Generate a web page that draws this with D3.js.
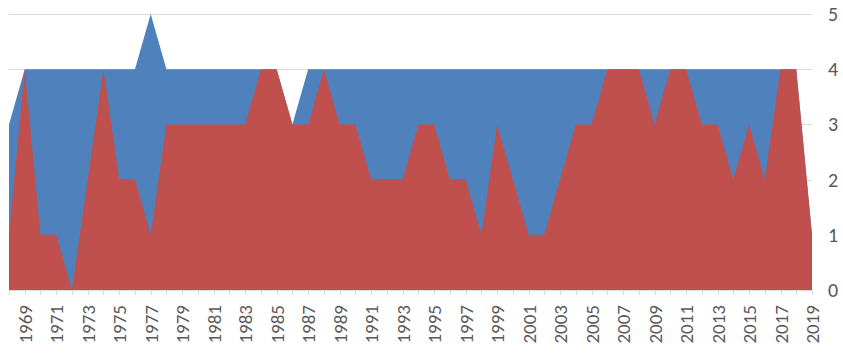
<!DOCTYPE html>
<html lang="en">
<head>
  <meta charset="UTF-8">
  <title>Area Chart 1968-2019</title>
  <script src="https://d3js.org/d3.v7.min.js"></script>
  <style>
    body {
      margin: 0;
      background-color: #fff;
      font-family: Calibri, Carlito, "Liberation Sans", Arial, sans-serif;
    }
    .grid line {
      stroke: #d9d9d9;
      stroke-width: 1px;
      shape-rendering: crispEdges;
    }
    .tick-label {
      fill: #595959;
      font-size: 20px;
    }
    .x-label {
      font-size: 19px;
    }
  </style>
</head>
<body>
  <svg width="843" height="353"></svg>

  <script>
    const years = [1968, 1969, 1970, 1971, 1972, 1973, 1974, 1975, 1976, 1977,
                   1978, 1979, 1980, 1981, 1982, 1983, 1984, 1985, 1986, 1987,
                   1988, 1989, 1990, 1991, 1992, 1993, 1994, 1995, 1996, 1997,
                   1998, 1999, 2000, 2001, 2002, 2003, 2004, 2005, 2006, 2007,
                   2008, 2009, 2010, 2011, 2012, 2013, 2014, 2015, 2016, 2017,
                   2018, 2019];

    // back series (blue)
    const blueValues = [3, 4, 4, 4, 4, 4, 4, 4, 4, 5,
                        4, 4, 4, 4, 4, 4, 4, 4, 3, 4,
                        4, 4, 4, 4, 4, 4, 4, 4, 4, 4,
                        4, 4, 4, 4, 4, 4, 4, 4, 4, 4,
                        4, 4, 4, 4, 4, 4, 4, 4, 4, 4,
                        4, 1];

    // front series (red)
    const redValues = [1, 4, 1, 1, 0, 2, 4, 2, 2, 1,
                       3, 3, 3, 3, 3, 3, 4, 4, 3, 3,
                       4, 3, 3, 2, 2, 2, 3, 3, 2, 2,
                       1, 3, 2, 1, 1, 2, 3, 3, 4, 4,
                       4, 3, 4, 4, 3, 3, 2, 3, 2, 4,
                       4, 1];

    const yTicks = [0, 1, 2, 3, 4, 5];
    const labelYears = years.filter((y, i) => i % 2 === 1);

    const svg = d3.select("svg");
    const plot = {left: 9, right: 812, top: 14, bottom: 290};

    const x = d3.scaleLinear()
                .domain([years[0], years[years.length - 1]])
                .range([plot.left, plot.right]);

    const y = d3.scaleLinear()
                .domain([0, 5])
                .range([plot.bottom, plot.top]);

    // Gridlines
    svg.append("g")
      .attr("class", "grid")
      .selectAll("line")
      .data(yTicks)
      .enter()
      .append("line")
      .attr("x1", plot.left)
      .attr("x2", plot.right)
      .attr("y1", d => Math.round(y(d)) + 0.5)
      .attr("y2", d => Math.round(y(d)) + 0.5);

    const area = d3.area()
                   .x(d => x(d.year))
                   .y0(y(0))
                   .y1(d => y(d.v));

    const series = [
      {name: "blue", color: "#4f81bd", values: blueValues},
      {name: "red", color: "#c0504d", values: redValues}
    ];

    series.forEach(s => {
      const pts = years.map((yr, i) => ({year: yr, v: s.values[i]}));
      svg.append("path")
        .attr("d", area(pts))
        .attr("fill", s.color);
    });

    // X axis: ticks every year, labels every other year
    const xAxis = svg.append("g")
      .attr("transform", `translate(0,${plot.bottom})`);

    xAxis.append("line")
      .attr("x1", plot.left)
      .attr("x2", plot.right)
      .attr("y1", 0.5)
      .attr("y2", 0.5)
      .attr("stroke", "#d9d9d9");

    xAxis.selectAll(".xtick")
      .data(years)
      .enter()
      .append("line")
      .attr("class", "xtick")
      .attr("x1", d => Math.round(x(d)) + 0.5)
      .attr("x2", d => Math.round(x(d)) + 0.5)
      .attr("y1", 0)
      .attr("y2", 5)
      .attr("stroke", "#d9d9d9");

    xAxis.selectAll(".xlabel")
      .data(labelYears)
      .enter()
      .append("text")
      .attr("class", "tick-label x-label")
      .attr("text-anchor", "end")
      .attr("transform", d => `translate(${x(d) + 7},${15}) rotate(-90)`)
      .text(d => d);

    // Y axis labels on the right
    svg.append("g")
      .selectAll("text")
      .data(yTicks)
      .enter()
      .append("text")
      .attr("class", "tick-label")
      .attr("x", 828)
      .attr("y", d => y(d) + 7)
      .text(d => d);
  </script>
</body>
</html>
